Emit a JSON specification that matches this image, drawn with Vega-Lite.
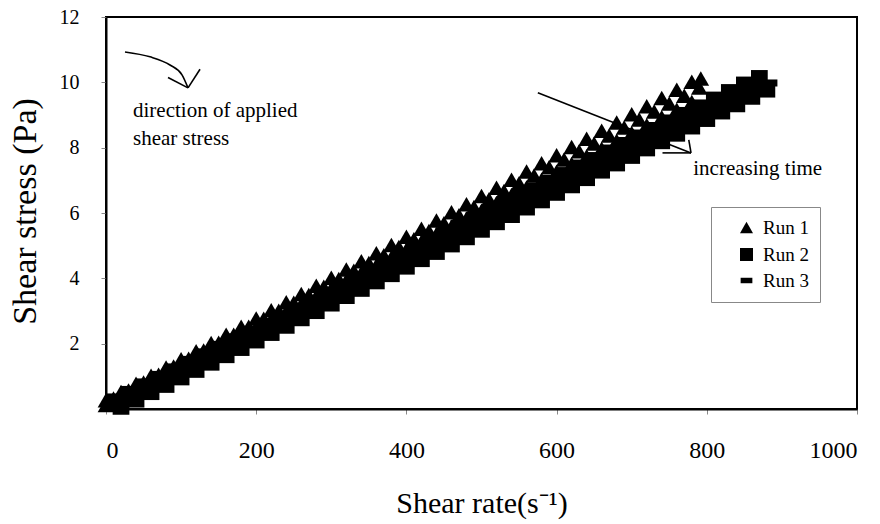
{
  "$schema": "https://vega.github.io/schema/vega-lite/v6.json",
  "autosize": {"type": "none"},
  "padding": {"left": 106, "top": 17, "right": 23, "bottom": 115},
  "width": 751,
  "height": 392,
  "background": "white",
  "config": {
    "view": {"stroke": "black", "strokeWidth": 2},
    "font": "Liberation Serif"
  },
  "datasets": {
    "pts": [
      {"run":"Run 1","x":0,"y":0.27},{"run":"Run 1","x":20,"y":0.52},{"run":"Run 1","x":40,"y":0.77},{"run":"Run 1","x":60,"y":1.02},{"run":"Run 1","x":80,"y":1.27},{"run":"Run 1","x":100,"y":1.52},{"run":"Run 1","x":120,"y":1.77},{"run":"Run 1","x":140,"y":2.02},{"run":"Run 1","x":160,"y":2.27},{"run":"Run 1","x":180,"y":2.52},{"run":"Run 1","x":200,"y":2.77},{"run":"Run 1","x":220,"y":3.02},{"run":"Run 1","x":240,"y":3.27},{"run":"Run 1","x":260,"y":3.52},{"run":"Run 1","x":280,"y":3.77},{"run":"Run 1","x":300,"y":4.02},{"run":"Run 1","x":320,"y":4.27},{"run":"Run 1","x":340,"y":4.52},{"run":"Run 1","x":360,"y":4.77},{"run":"Run 1","x":380,"y":5.02},{"run":"Run 1","x":400,"y":5.27},{"run":"Run 1","x":420,"y":5.52},{"run":"Run 1","x":440,"y":5.77},{"run":"Run 1","x":460,"y":6.02},{"run":"Run 1","x":480,"y":6.27},{"run":"Run 1","x":500,"y":6.52},{"run":"Run 1","x":520,"y":6.77},{"run":"Run 1","x":540,"y":7.02},{"run":"Run 1","x":560,"y":7.27},{"run":"Run 1","x":580,"y":7.52},{"run":"Run 1","x":600,"y":7.77},{"run":"Run 1","x":620,"y":8.02},{"run":"Run 1","x":640,"y":8.27},{"run":"Run 1","x":660,"y":8.52},{"run":"Run 1","x":680,"y":8.77},{"run":"Run 1","x":700,"y":9.02},{"run":"Run 1","x":720,"y":9.27},{"run":"Run 1","x":740,"y":9.52},{"run":"Run 1","x":760,"y":9.77},{"run":"Run 1","x":780,"y":10.02},{"run":"Run 1","x":792,"y":10.12},
      {"run":"Run 1","x":10,"y":0.32},{"run":"Run 1","x":30,"y":0.57},{"run":"Run 1","x":50,"y":0.81},{"run":"Run 1","x":70,"y":1.05},{"run":"Run 1","x":90,"y":1.30},{"run":"Run 1","x":110,"y":1.54},{"run":"Run 1","x":130,"y":1.79},{"run":"Run 1","x":150,"y":2.03},{"run":"Run 1","x":170,"y":2.27},{"run":"Run 1","x":190,"y":2.52},{"run":"Run 1","x":210,"y":2.76},{"run":"Run 1","x":230,"y":3.01},{"run":"Run 1","x":250,"y":3.25},{"run":"Run 1","x":270,"y":3.49},{"run":"Run 1","x":290,"y":3.74},{"run":"Run 1","x":310,"y":3.98},{"run":"Run 1","x":330,"y":4.23},{"run":"Run 1","x":350,"y":4.47},{"run":"Run 1","x":370,"y":4.71},{"run":"Run 1","x":390,"y":4.96},{"run":"Run 1","x":410,"y":5.20},{"run":"Run 1","x":430,"y":5.45},{"run":"Run 1","x":450,"y":5.69},{"run":"Run 1","x":470,"y":5.93},{"run":"Run 1","x":490,"y":6.18},{"run":"Run 1","x":510,"y":6.42},{"run":"Run 1","x":530,"y":6.67},{"run":"Run 1","x":550,"y":6.91},{"run":"Run 1","x":570,"y":7.15},{"run":"Run 1","x":590,"y":7.40},{"run":"Run 1","x":610,"y":7.64},{"run":"Run 1","x":630,"y":7.89},{"run":"Run 1","x":650,"y":8.13},{"run":"Run 1","x":670,"y":8.37},{"run":"Run 1","x":690,"y":8.62},{"run":"Run 1","x":710,"y":8.86},{"run":"Run 1","x":730,"y":9.11},{"run":"Run 1","x":750,"y":9.35},{"run":"Run 1","x":770,"y":9.59},{"run":"Run 1","x":790,"y":9.84},
      {"run":"Run 1","x":0,"y":0.12},{"run":"Run 1","x":20,"y":0.36},{"run":"Run 1","x":40,"y":0.60},{"run":"Run 1","x":60,"y":0.83},{"run":"Run 1","x":80,"y":1.07},{"run":"Run 1","x":100,"y":1.31},{"run":"Run 1","x":120,"y":1.55},{"run":"Run 1","x":140,"y":1.79},{"run":"Run 1","x":160,"y":2.02},{"run":"Run 1","x":180,"y":2.26},{"run":"Run 1","x":200,"y":2.50},{"run":"Run 1","x":220,"y":2.74},{"run":"Run 1","x":240,"y":2.98},{"run":"Run 1","x":260,"y":3.21},{"run":"Run 1","x":280,"y":3.45},{"run":"Run 1","x":300,"y":3.69},{"run":"Run 1","x":320,"y":3.93},{"run":"Run 1","x":340,"y":4.17},{"run":"Run 1","x":360,"y":4.40},{"run":"Run 1","x":380,"y":4.64},{"run":"Run 1","x":400,"y":4.88},{"run":"Run 1","x":420,"y":5.12},{"run":"Run 1","x":440,"y":5.36},{"run":"Run 1","x":460,"y":5.59},{"run":"Run 1","x":480,"y":5.83},{"run":"Run 1","x":500,"y":6.07},{"run":"Run 1","x":520,"y":6.31},{"run":"Run 1","x":540,"y":6.55},{"run":"Run 1","x":560,"y":6.78},{"run":"Run 1","x":580,"y":7.02},{"run":"Run 1","x":600,"y":7.26},{"run":"Run 1","x":620,"y":7.50},{"run":"Run 1","x":640,"y":7.74},{"run":"Run 1","x":660,"y":7.97},{"run":"Run 1","x":680,"y":8.21},{"run":"Run 1","x":700,"y":8.45},{"run":"Run 1","x":720,"y":8.69},{"run":"Run 1","x":740,"y":8.93},{"run":"Run 1","x":760,"y":9.16},{"run":"Run 1","x":780,"y":9.40},
      {"run":"Run 2","x":10,"y":0.22},{"run":"Run 2","x":30,"y":0.45},{"run":"Run 2","x":50,"y":0.68},{"run":"Run 2","x":70,"y":0.91},{"run":"Run 2","x":90,"y":1.14},{"run":"Run 2","x":110,"y":1.37},{"run":"Run 2","x":130,"y":1.60},{"run":"Run 2","x":150,"y":1.83},{"run":"Run 2","x":170,"y":2.06},{"run":"Run 2","x":190,"y":2.29},{"run":"Run 2","x":210,"y":2.53},{"run":"Run 2","x":230,"y":2.76},{"run":"Run 2","x":250,"y":2.99},{"run":"Run 2","x":270,"y":3.22},{"run":"Run 2","x":290,"y":3.45},{"run":"Run 2","x":310,"y":3.68},{"run":"Run 2","x":330,"y":3.91},{"run":"Run 2","x":350,"y":4.14},{"run":"Run 2","x":370,"y":4.37},{"run":"Run 2","x":390,"y":4.60},{"run":"Run 2","x":410,"y":4.84},{"run":"Run 2","x":430,"y":5.07},{"run":"Run 2","x":450,"y":5.30},{"run":"Run 2","x":470,"y":5.53},{"run":"Run 2","x":490,"y":5.76},{"run":"Run 2","x":510,"y":5.99},{"run":"Run 2","x":530,"y":6.22},{"run":"Run 2","x":550,"y":6.45},{"run":"Run 2","x":570,"y":6.68},{"run":"Run 2","x":590,"y":6.91},{"run":"Run 2","x":610,"y":7.15},{"run":"Run 2","x":630,"y":7.38},{"run":"Run 2","x":650,"y":7.61},{"run":"Run 2","x":670,"y":7.84},{"run":"Run 2","x":690,"y":8.07},{"run":"Run 2","x":710,"y":8.30},{"run":"Run 2","x":730,"y":8.53},{"run":"Run 2","x":750,"y":8.76},{"run":"Run 2","x":770,"y":8.99},{"run":"Run 2","x":790,"y":9.22},{"run":"Run 2","x":810,"y":9.46},{"run":"Run 2","x":830,"y":9.69},{"run":"Run 2","x":850,"y":9.92},{"run":"Run 2","x":870,"y":10.12},
      {"run":"Run 2","x":20,"y":0.08},{"run":"Run 2","x":40,"y":0.30},{"run":"Run 2","x":60,"y":0.53},{"run":"Run 2","x":80,"y":0.75},{"run":"Run 2","x":100,"y":0.98},{"run":"Run 2","x":120,"y":1.21},{"run":"Run 2","x":140,"y":1.43},{"run":"Run 2","x":160,"y":1.66},{"run":"Run 2","x":180,"y":1.88},{"run":"Run 2","x":200,"y":2.11},{"run":"Run 2","x":220,"y":2.34},{"run":"Run 2","x":240,"y":2.56},{"run":"Run 2","x":260,"y":2.79},{"run":"Run 2","x":280,"y":3.01},{"run":"Run 2","x":300,"y":3.24},{"run":"Run 2","x":320,"y":3.47},{"run":"Run 2","x":340,"y":3.69},{"run":"Run 2","x":360,"y":3.92},{"run":"Run 2","x":380,"y":4.14},{"run":"Run 2","x":400,"y":4.37},{"run":"Run 2","x":420,"y":4.60},{"run":"Run 2","x":440,"y":4.82},{"run":"Run 2","x":460,"y":5.05},{"run":"Run 2","x":480,"y":5.27},{"run":"Run 2","x":500,"y":5.50},{"run":"Run 2","x":520,"y":5.73},{"run":"Run 2","x":540,"y":5.95},{"run":"Run 2","x":560,"y":6.18},{"run":"Run 2","x":580,"y":6.40},{"run":"Run 2","x":600,"y":6.63},{"run":"Run 2","x":620,"y":6.86},{"run":"Run 2","x":640,"y":7.08},{"run":"Run 2","x":660,"y":7.31},{"run":"Run 2","x":680,"y":7.53},{"run":"Run 2","x":700,"y":7.76},{"run":"Run 2","x":720,"y":7.99},{"run":"Run 2","x":740,"y":8.21},{"run":"Run 2","x":760,"y":8.44},{"run":"Run 2","x":780,"y":8.66},{"run":"Run 2","x":800,"y":8.89},{"run":"Run 2","x":820,"y":9.12},{"run":"Run 2","x":840,"y":9.34},{"run":"Run 2","x":860,"y":9.57},{"run":"Run 2","x":880,"y":9.79},
      {"run":"Run 3","x":10,"y":0.11},{"run":"Run 3","x":30,"y":0.34},{"run":"Run 3","x":50,"y":0.57},{"run":"Run 3","x":70,"y":0.79},{"run":"Run 3","x":90,"y":1.02},{"run":"Run 3","x":110,"y":1.24},{"run":"Run 3","x":130,"y":1.47},{"run":"Run 3","x":150,"y":1.70},{"run":"Run 3","x":170,"y":1.92},{"run":"Run 3","x":190,"y":2.15},{"run":"Run 3","x":210,"y":2.37},{"run":"Run 3","x":230,"y":2.60},{"run":"Run 3","x":250,"y":2.83},{"run":"Run 3","x":270,"y":3.05},{"run":"Run 3","x":290,"y":3.28},{"run":"Run 3","x":310,"y":3.50},{"run":"Run 3","x":330,"y":3.73},{"run":"Run 3","x":350,"y":3.96},{"run":"Run 3","x":370,"y":4.18},{"run":"Run 3","x":390,"y":4.41},{"run":"Run 3","x":410,"y":4.63},{"run":"Run 3","x":430,"y":4.86},{"run":"Run 3","x":450,"y":5.09},{"run":"Run 3","x":470,"y":5.31},{"run":"Run 3","x":490,"y":5.54},{"run":"Run 3","x":510,"y":5.76},{"run":"Run 3","x":530,"y":5.99},{"run":"Run 3","x":550,"y":6.22},{"run":"Run 3","x":570,"y":6.44},{"run":"Run 3","x":590,"y":6.67},{"run":"Run 3","x":610,"y":6.89},{"run":"Run 3","x":630,"y":7.12},{"run":"Run 3","x":650,"y":7.35},{"run":"Run 3","x":670,"y":7.57},{"run":"Run 3","x":690,"y":7.80},{"run":"Run 3","x":710,"y":8.02},{"run":"Run 3","x":730,"y":8.25},{"run":"Run 3","x":750,"y":8.48},{"run":"Run 3","x":770,"y":8.70},{"run":"Run 3","x":790,"y":8.93},{"run":"Run 3","x":810,"y":9.15},{"run":"Run 3","x":830,"y":9.38},{"run":"Run 3","x":850,"y":9.61},{"run":"Run 3","x":870,"y":9.83},{"run":"Run 3","x":884,"y":9.98}
    ],
    "arrows": [
      {"id":"c","ord":1,"x":25.3,"y":10.93},{"id":"c","ord":2,"x":58.6,"y":10.78},{"id":"c","ord":3,"x":85.2,"y":10.53},{"id":"c","ord":4,"x":101.2,"y":10.23},{"id":"c","ord":5,"x":109.2,"y":9.83},
      {"id":"ch1","ord":1,"x":82.6,"y":10.15},{"id":"ch1","ord":2,"x":109.2,"y":9.83},
      {"id":"ch2","ord":1,"x":125.2,"y":10.40},{"id":"ch2","ord":2,"x":109.2,"y":9.83},
      {"id":"s","ord":1,"x":575,"y":9.68},{"id":"s","ord":2,"x":779,"y":7.84},
      {"id":"sh1","ord":1,"x":776,"y":8.24},{"id":"sh1","ord":2,"x":779,"y":7.84},
      {"id":"sh2","ord":1,"x":741,"y":7.84},{"id":"sh2","ord":2,"x":779,"y":7.84}
    ],
    "notes": [
      {"x":36,"y":9.13,"label":"direction of applied"},
      {"x":36,"y":8.27,"label":"shear stress"},
      {"x":782,"y":7.35,"label":"increasing time"}
    ]
  },
  "encoding": {
    "x": {
      "field": "x", "type": "quantitative",
      "scale": {"domain": [0, 1000], "nice": false, "zero": false},
      "axis": {
        "values": [0, 200, 400, 600, 800, 1000],
        "format": "d",
        "grid": false,
        "domainColor": "black", "domainWidth": 2,
        "tickColor": "#888", "tickSize": 5, "tickWidth": 1,
        "labelFont": "Liberation Serif", "labelFontSize": 24, "labelColor": "black",
        "labelPadding": 24,
        "title": "Shear rate(s⁻¹)",
        "titleFont": "Liberation Serif", "titleFontSize": 30, "titleFontWeight": "normal", "titleColor": "black",
        "titleY": 103, "titleBaseline": "alphabetic"
      }
    },
    "y": {
      "field": "y", "type": "quantitative",
      "scale": {"domain": [0, 12], "nice": false, "zero": false},
      "axis": {
        "values": [2, 4, 6, 8, 10, 12],
        "format": "d",
        "grid": false,
        "domainColor": "black", "domainWidth": 2,
        "tickColor": "#888", "tickSize": 5, "tickWidth": 1,
        "labelFont": "Liberation Serif", "labelFontSize": 20, "labelColor": "black",
        "labelPadding": 22,
        "title": "Shear stress (Pa)",
        "titleFont": "Liberation Serif", "titleFontSize": 34, "titleFontWeight": "normal", "titleColor": "black",
        "titleAngle": 270, "titleX": -81, "titleY": 194, "titleAlign": "center", "titleBaseline": "middle"
      }
    }
  },
  "layer": [
    {
      "data": {"name": "pts"},
      "mark": {"type": "point", "filled": true, "color": "black", "opacity": 1, "size": 280, "clip": false},
      "encoding": {
        "shape": {
          "field": "run", "type": "nominal",
          "scale": {"domain": ["Run 1", "Run 2", "Run 3"], "range": ["triangle-up", "square", "M-0.9,-0.42H0.9V0.42H-0.9Z"]},
          "legend": {
            "title": null, "orient": "none", "legendX": 605, "legendY": 190,
            "fillColor": "white", "strokeColor": "#888",
            "padding": 11, "symbolOffset": 15,
            "symbolFillColor": "black", "symbolStrokeColor": "black", "symbolSize": 170,
            "labelFont": "Liberation Serif", "labelFontSize": 19, "labelColor": "black",
            "labelOffset": 7, "rowPadding": 6,
            "encode": {"legend": {"update": {"strokeDash": {"value": [2, 2]}}}}
          }
        }
      }
    },
    {
      "data": {"name": "arrows"},
      "mark": {"type": "line", "color": "black", "strokeWidth": 1.6, "interpolate": "monotone", "clip": false},
      "encoding": {
        "detail": {"field": "id", "type": "nominal"},
        "order": {"field": "ord", "type": "quantitative"}
      }
    },
    {
      "data": {"name": "notes"},
      "mark": {"type": "text", "align": "left", "baseline": "middle", "font": "Liberation Serif", "fontSize": 21, "color": "black"},
      "encoding": {
        "text": {"field": "label", "type": "nominal"}
      }
    }
  ]
}
